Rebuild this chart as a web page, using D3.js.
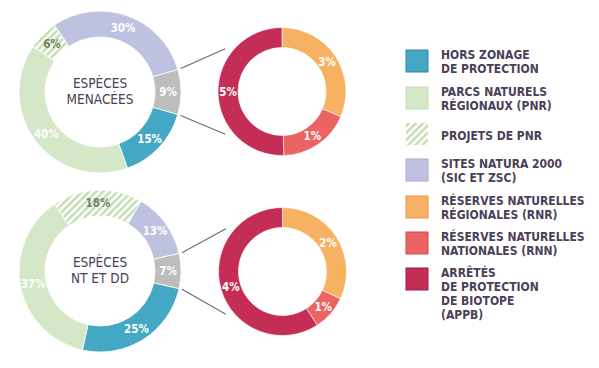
<!DOCTYPE html>
<html><head><meta charset="utf-8">
<script src="https://cdn.jsdelivr.net/npm/d3@7"></script>
<style>
body{margin:0;background:#fff;}
svg{display:block;}
text{font-family:"Liberation Sans Narrow","DejaVu Sans Condensed","Roboto",sans-serif;}
</style></head>
<body>
<script>
// ---- data ----
const mainCategories = ["Gray", "Hors zonage", "PNR", "Projets PNR", "Natura 2000"];
const menaceesValues = [9, 15, 40, 6, 30];
const menaceesLabels = ["9%", "15%", "40%", "6%", "30%"];
const ntddValues = [7, 25, 37, 18, 13];
const ntddLabels = ["7%", "25%", "37%", "18%", "13%"];

const detailCategories = ["RNR", "RNN", "APPB"];
const menaceesDetailValues = [2.83, 1.63, 4.54];
const menaceesDetailLabels = ["3%", "1%", "5%"];
const ntddDetailValues = [2.24, 0.62, 4.14];
const ntddDetailLabels = ["2%", "1%", "4%"];

const centerTitles = [["ESPÈCES", "MENACÉES"], ["ESPÈCES", "NT ET DD"]];

const legendLabels = [
  ["HORS ZONAGE", "DE PROTECTION"],
  ["PARCS NATURELS", "RÉGIONAUX (PNR)"],
  ["PROJETS DE PNR"],
  ["SITES NATURA 2000", "(SIC ET ZSC)"],
  ["RÉSERVES NATURELLES", "RÉGIONALES (RNR)"],
  ["RÉSERVES NATURELLES", "NATIONALES (RNN)"],
  ["ARRÊTÉS", "DE PROTECTION", "DE BIOTOPE", "(APPB)"]
];
const legendKeys = ["Hors zonage", "PNR", "Projets PNR", "Natura 2000", "RNR", "RNN", "APPB"];

// ---- styles ----
const fills = {
  "Gray": "#bdbdbd", "Hors zonage": "#44a7c3", "PNR": "#d4e7c7", "Projets PNR": "url(#hatch)",
  "Natura 2000": "#bfc1e1", "RNR": "#f6b262", "RNN": "#ec6363", "APPB": "#c42e56"
};
const borders = {
  "Hors zonage": "#2c8aa5", "PNR": "#c5dcb5", "Projets PNR": "none", "Natura 2000": "#a8aad3",
  "RNR": "#e79a45", "RNN": "#d84a4a", "APPB": "#9e1c3e"
};
const textColor = "#4b4057";

const W = 599, H = 368;
const svg = d3.select("body").append("svg").attr("width", W).attr("height", H);
const defs = svg.append("defs");
const pat = defs.append("pattern").attr("id", "hatch").attr("patternUnits", "userSpaceOnUse")
  .attr("width", 5).attr("height", 5).attr("patternTransform", "rotate(45)");
pat.append("rect").attr("width", 5).attr("height", 5).attr("fill", "#fff");
pat.append("rect").attr("width", 2.5).attr("height", 5).attr("fill", "#c6ddb4");

const deg = Math.PI / 180;

function mainDonut(cx, cy, values, labels, title) {
  const total = d3.sum(values);
  const grayAngle = values[0] / total * 360;
  const start = (90 - grayAngle / 2) * deg;
  const pie = d3.pie().sort(null).value(d => d.v).startAngle(start).endAngle(start + 2 * Math.PI);
  const arcs = pie(values.map((v, i) => ({ v, k: mainCategories[i], l: labels[i] })));
  const arc = d3.arc().innerRadius(55).outerRadius(81);
  const g = svg.append("g").attr("transform", `translate(${cx},${cy})`);
  g.selectAll("path").data(arcs).join("path")
    .attr("d", arc).attr("fill", d => fills[d.data.k])
    .attr("stroke", "#fff").attr("stroke-width", 0.8);
  g.selectAll("text.lab").data(arcs).join("text").attr("class", "lab")
    .attr("transform", d => `translate(${arc.centroid(d)})`)
    .attr("text-anchor", "middle").attr("dy", "0.36em")
    .attr("font-size", 11.5).attr("font-weight", "bold")
    .attr("fill", d => d.data.k === "Projets PNR" ? "#6f845f" : "#fff")
    .text(d => d.data.l);
  g.selectAll("text.title").data(title).join("text").attr("class", "title")
    .attr("text-anchor", "middle").attr("y", (d, i) => -4 + i * 16)
    .attr("font-size", 13.5).attr("fill", textColor).text(d => d);
  return arcs[0];
}

function detailDonut(cx, cy, values, labels) {
  const pie = d3.pie().sort(null).value(d => d.v);
  const arcs = pie(values.map((v, i) => ({ v, k: detailCategories[i], l: labels[i] })));
  const arc = d3.arc().innerRadius(44).outerRadius(64);
  const g = svg.append("g").attr("transform", `translate(${cx},${cy})`);
  g.selectAll("path").data(arcs).join("path")
    .attr("d", arc).attr("fill", d => fills[d.data.k])
    .attr("stroke", "#fff").attr("stroke-width", 0.6);
  g.selectAll("text").data(arcs).join("text")
    .attr("transform", d => `translate(${arc.centroid(d)})`)
    .attr("text-anchor", "middle").attr("dy", "0.36em")
    .attr("font-size", 11.5).attr("font-weight", "bold").attr("fill", "#fff")
    .text(d => d.data.l);
}

function connectors(cx1, cy1, grayArc, cx2, cy2) {
  const r1 = 84, r2 = 71;
  const pts = [
    [grayArc.startAngle, 307 * deg],
    [grayArc.endAngle, 233 * deg]
  ];
  pts.forEach(([a1, a2]) => {
    svg.append("line")
      .attr("x1", cx1 + r1 * Math.sin(a1)).attr("y1", cy1 - r1 * Math.cos(a1))
      .attr("x2", cx2 + r2 * Math.sin(a2)).attr("y2", cy2 - r2 * Math.cos(a2))
      .attr("stroke", "#6e6e6e").attr("stroke-width", 1.2);
  });
}

const g1 = mainDonut(100, 92, menaceesValues, menaceesLabels, centerTitles[0]);
detailDonut(282, 91.5, menaceesDetailValues, menaceesDetailLabels);
connectors(100, 92, g1, 282, 91.5);

const g2 = mainDonut(100, 271, ntddValues, ntddLabels, centerTitles[1]);
detailDonut(282.5, 271.5, ntddDetailValues, ntddDetailLabels);
connectors(100, 271, g2, 282.5, 271.5);

// ---- legend ----
const legendTops = [50, 87, 123, 159, 196, 232, 268];
const lg = svg.append("g");
legendKeys.forEach((k, i) => {
  const y = legendTops[i];
  lg.append("rect").attr("x", 406).attr("y", y).attr("width", 22).attr("height", 22)
    .attr("fill", fills[k]).attr("stroke", borders[k]).attr("stroke-width", 1);
  const lines = legendLabels[i];
  const first = lines.length === 1 ? y + 17 : y + 8.5;
  lines.forEach((t, j) => {
    lg.append("text").attr("x", 441).attr("y", first + j * 14)
      .attr("font-size", 12).attr("font-weight", "bold").attr("fill", textColor).text(t);
  });
});
</script>
</body></html>
